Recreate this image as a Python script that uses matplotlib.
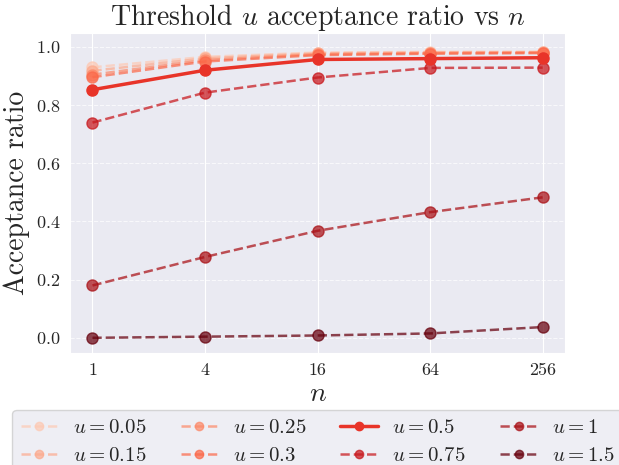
import numpy as np
import matplotlib
matplotlib.use("Agg")
import matplotlib.pyplot as plt
import seaborn as sns

n_values = [1, 4, 16, 64, 256]
u_labels = ["0.05", "0.15", "0.25", "0.3", "0.5", "0.75", "1", "1.5"]
ratios = {
    "0.05": [0.930, 0.966, 0.981, 0.983, 0.984],
    "0.15": [0.918, 0.961, 0.978, 0.981, 0.982],
    "0.25": [0.905, 0.955, 0.975, 0.979, 0.981],
    "0.3":  [0.896, 0.950, 0.972, 0.977, 0.979],
    "0.5":  [0.853, 0.920, 0.957, 0.960, 0.963],
    "0.75": [0.740, 0.843, 0.895, 0.928, 0.929],
    "1":    [0.180, 0.278, 0.368, 0.432, 0.483],
    "1.5":  [0.000, 0.004, 0.008, 0.015, 0.037],
}
# positions in the Reds colormap
shades = [0.2, 0.3, 0.4, 0.5, 0.65, 0.76, 0.86, 1.0]

sns.set_style("darkgrid")
plt.rcParams["font.family"] = "serif"
plt.rcParams["font.serif"] = ["cmr10", "DejaVu Serif"]
plt.rcParams["mathtext.fontset"] = "cm"
plt.rcParams["axes.formatter.use_mathtext"] = True

cmap = plt.get_cmap("Reds")

fig = plt.figure(figsize=(6.19, 4.65), dpi=100)
ax = fig.add_axes([0.113, 0.241, 0.8, 0.688])
x = np.arange(len(n_values))

for i, u in enumerate(u_labels):
    if u == "0.5":
        ax.plot(x, ratios[u], "-o", color=cmap(shades[i]), lw=2.5, ms=8,
                label="$u = %s$" % u, zorder=5)
    else:
        ax.plot(x, ratios[u], "--o", color=cmap(shades[i]), lw=1.8, ms=8,
                alpha=0.72, label="$u = %s$" % u)

ax.set_xticks(x)
ax.set_xticklabels([str(v) for v in n_values])
ax.set_ylim(-0.052, 1.048)
ax.set_yticks([0.0, 0.2, 0.4, 0.6, 0.8, 1.0])
ax.tick_params(labelsize=13)
ax.grid(axis="y", linestyle="--", alpha=0.7)
ax.set_xlabel("$n$", fontsize=20, labelpad=2)
ax.set_ylabel("Acceptance ratio", fontsize=20)
ax.set_title("Threshold $u$ acceptance ratio vs $n$", fontsize=20)

fig.legend(loc="upper left", bbox_to_anchor=(0.02, 0.118), ncol=4,
           fontsize=15, frameon=True, columnspacing=1.65, markerscale=0.75,
           labelspacing=0.45, borderpad=0.4, handletextpad=0.7,
           handlelength=1.8, borderaxespad=0)

fig.savefig("out.png", dpi=100)
